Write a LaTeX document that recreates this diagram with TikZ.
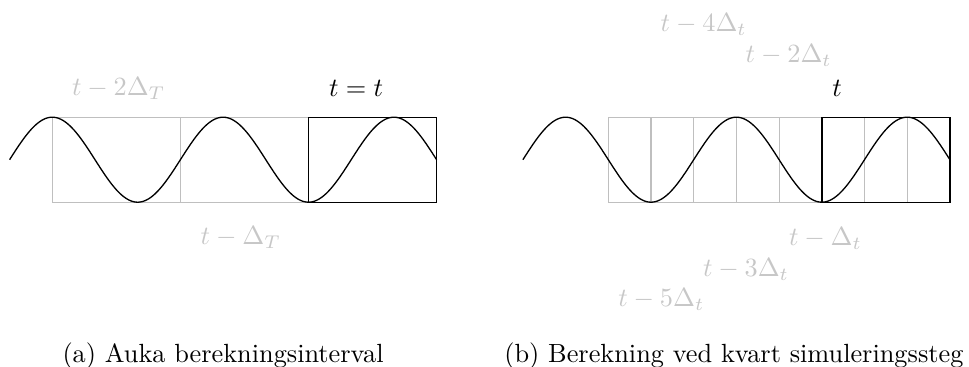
\documentclass[tikz,border=0pt]{standalone}
\tikzset{
  gline/.style={draw=black!25, line width=0.45pt},
  bline/.style={draw=black, line width=0.5pt},
  wave/.style={draw=black, line width=0.5pt},
  glabel/.style={text=black!22, inner sep=0pt, outer sep=0pt, anchor=base west},
  blabel/.style={text=black, inner sep=0pt, outer sep=0pt, anchor=base west},
  capt/.style={text=black, inner sep=0pt, outer sep=0pt, anchor=base west},
}
\begin{document}
\begin{tikzpicture}[x=0.3802pt, y=-0.3802pt]
\useasboundingbox (0,0) rectangle (969,367);
% ---------- left panel ----------
\draw[gline] (52.3,117.2) rectangle (308.5,202.2);
\draw[gline] (180.4,117.2) -- (180.4,202.2);
\draw[bline] (308.5,117.2) rectangle (436.7,202.2);
\draw[wave] plot[domain=-90:810, samples=240, variable=\t] ({52.3+\t*0.47444}, {159.7-42.5*cos(\t)});
\node[glabel] (a1) at (72,96) {$t-2\Delta_T$};
\node[blabel] (a2) at (329,96.5) {$t=t$};
\node[glabel] (a3) at (200.7,245) {$t-\Delta_T$};
\node[capt] (capa) at (62.5,363) {(a) Auka berekningsinterval};
% ---------- right panel ----------
\draw[gline] (608.3,117.2) rectangle (950,202.2);
\foreach \k in {1,...,7} {
  \draw[gline] ({608.3+\k*42.71},117.2) -- ({608.3+\k*42.71},202.2);
}
\draw[bline] (821.85,117.2) rectangle (950,202.2);
\draw[wave] plot[domain=-90:810, samples=240, variable=\t] ({565.6+\t*0.47444}, {159.7-42.5*cos(\t)});
\node[glabel] (b4) at (660.7,32) {$t-4\Delta_t$};
\node[glabel] (b2) at (745.7,63) {$t-2\Delta_t$};
\node[blabel] (b0) at (832.3,96.5) {$t$};
\node[glabel] (b1) at (789,245.7) {$t-\Delta_t$};
\node[glabel] (b3) at (703,277) {$t-3\Delta_t$};
\node[glabel] (b5) at (618.3,306.7) {$t-5\Delta_t$};
\node[capt] (capb) at (504.3,363) {(b) Berekning ved kvart simuleringssteg};
\end{tikzpicture}
\end{document}
